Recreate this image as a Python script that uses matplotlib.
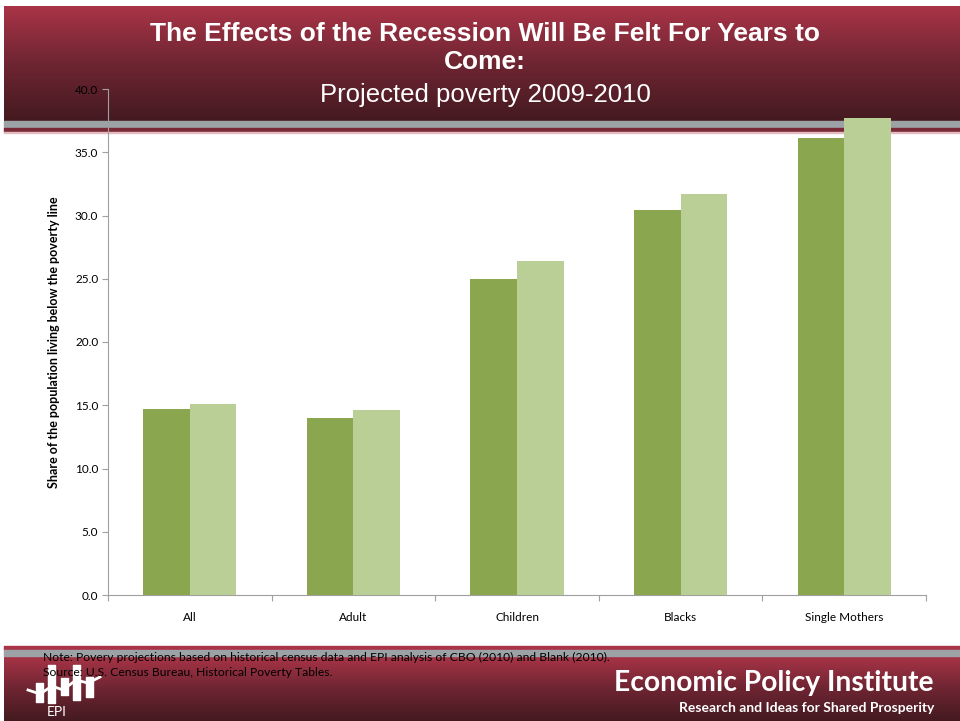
import matplotlib.pyplot as plt
import numpy as np
from matplotlib.colors import LinearSegmentedColormap

# poverty rate projections by group (percent)
groups = ["All", "Adult", "Children", "Blacks", "Single Mothers"]
rate_2009 = [14.7, 14.0, 25.0, 30.4, 36.1]
rate_2010 = [15.1, 14.6, 26.4, 31.7, 37.7]
yticks = [0, 5, 10, 15, 20, 25, 30, 35, 40]

title = "The Effects of the Recession Will Be Felt For Years to\nCome:"
subtitle = "Projected poverty 2009-2010"
ylabel = "Share of the population living below the poverty line"
note = "Note: Povery projections based on historical census data and EPI analysis of CBO (2010) and Blank (2010)."
source = "Source: U.S. Census Bureau, Historical Poverty Tables."

W, H = 960, 721
fig = plt.figure(figsize=(W / 100, H / 100), dpi=100)

# background layer in pixel coordinates
bg = fig.add_axes([0, 0, 1, 1], zorder=0)
bg.set_xlim(0, W)
bg.set_ylim(H, 0)
bg.axis("off")

red = LinearSegmentedColormap.from_list("band", ["#a93447", "#6e2532", "#441a20"])
grad = np.linspace(0, 1, 256).reshape(-1, 1)

# header band
bg.imshow(grad, cmap=red, extent=[4, W, 121, 6], aspect="auto", zorder=1)
bg.fill_between([4, W], 121, 128, color="#9ca2a5", zorder=2)
bg.fill_between([4, W], 128, 132, color="#7a2a36", zorder=2)
bg.fill_between([4, W], 132, 133, color="#e2bcc0", zorder=2)

# footer band
bg.fill_between([4, W], 646, 650, color="#a93447", zorder=2)
bg.fill_between([4, W], 650, 656, color="#9ca2a5", zorder=2)
bg.imshow(grad, cmap=red, extent=[4, W, H, 656], aspect="auto", zorder=1)

# EPI logo
for x0, top, bot in [(36, 683, 702), (48, 665, 703), (61, 678, 695), (73, 665, 700), (86, 677, 697)]:
    bg.fill_between([x0, x0 + 7], top, bot, color="white", zorder=3)
bg.plot([28, 40, 52, 63, 76, 88, 100], [690, 694, 686, 690, 680, 683, 677],
        color="white", lw=2, zorder=4)
bg.text(57, 712, "EPI", color="white", fontsize=10, family="Lato",
        ha="center", va="center", zorder=4)

bg.set_xlim(0, W)
bg.set_ylim(H, 0)

fig.text(485 / W, 1 - 48 / H, title, color="white", fontsize=19, fontweight="bold",
         family="Liberation Sans", ha="center", va="center", linespacing=1.2)
fig.text(485 / W, 1 - 95 / H, subtitle, color="white", fontsize=18.5,
         family="Liberation Sans", ha="center", va="center")

fig.text(43 / W, 1 - 657 / H, note, fontsize=8.75, family="Lato", va="center", zorder=5)
fig.text(43 / W, 1 - 673 / H, source, fontsize=8.75, family="Lato", va="center", zorder=5)
fig.text(934 / W, 1 - 683 / H, "Economic Policy Institute", color="white", fontsize=20.3,
         fontweight="bold", family="Lato", ha="right", va="center")
fig.text(934 / W, 1 - 708 / H, "Research and Ideas for Shared Prosperity", color="white",
         fontsize=10, fontweight="bold", family="Lato", ha="right", va="center")

# chart
ax = fig.add_axes([108 / W, 126 / H, 818 / W, 506 / H], zorder=2)
ax.patch.set_alpha(0)
x = np.arange(len(groups))
bw = 0.285
ax.bar(x - bw / 2, rate_2009, bw, color="#8aa64f", zorder=3)
ax.bar(x + bw / 2, rate_2010, bw, color="#b9cf96", zorder=3)

ax.set_xlim(-0.5, len(groups) - 0.5)
ax.set_ylim(0, 40)
ax.set_yticks(yticks)
ax.set_yticklabels(["{:.1f}".format(v) for v in yticks], family="Lato", fontsize=8.5)
ax.set_xticks(np.arange(len(groups) + 1) - 0.5)
ax.set_xticklabels([])
ax.set_xticks(x, minor=True)
ax.set_xticklabels(groups, minor=True, family="Lato", fontsize=8.5)
ax.tick_params(axis="x", which="minor", length=0, pad=12)
ax.tick_params(axis="x", which="major", length=4, color="#a0a0a0")
ax.tick_params(axis="y", length=4, color="#a0a0a0", pad=3)

for s in ["top", "right"]:
    ax.spines[s].set_visible(False)
for s in ["left", "bottom"]:
    ax.spines[s].set_color("#a0a0a0")

ax.set_ylabel(ylabel, family="Lato", fontsize=9, fontweight="bold", labelpad=11)

fig.savefig("out.png", dpi=100)
